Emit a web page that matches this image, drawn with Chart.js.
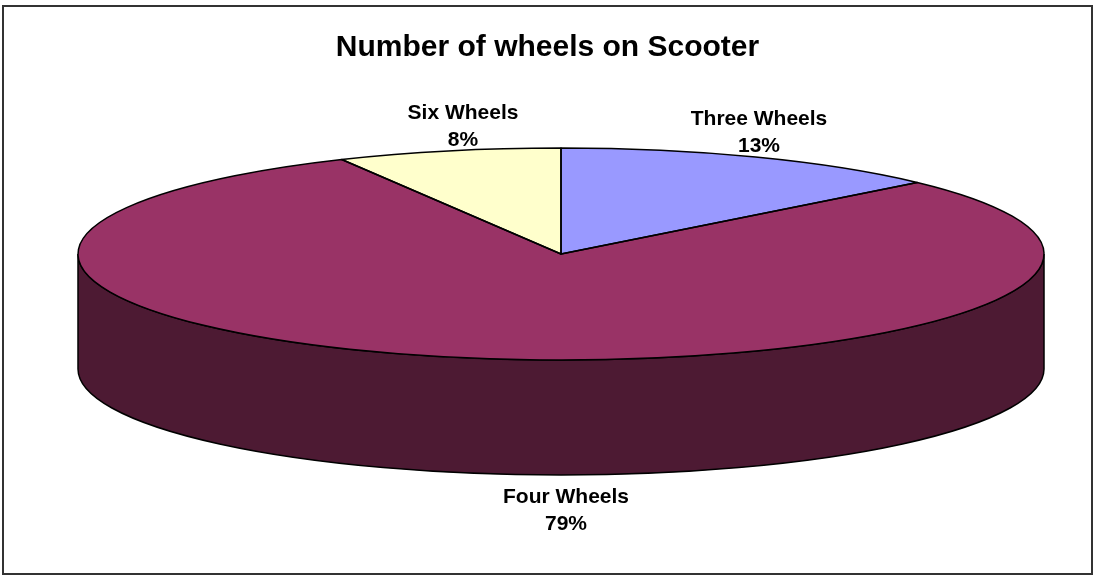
<!DOCTYPE html>
<html>
<head>
<meta charset="utf-8">
<title>Number of wheels on Scooter</title>
<script src="https://cdn.jsdelivr.net/npm/chart.js@4"></script>
<style>
  html, body { margin: 0; padding: 0; background: #fff; }
  #wrap { width: 1095px; height: 582px; }
</style>
</head>
<body>
<div id="wrap"><canvas id="graficaRuedas"></canvas></div>
<script>
const categories = ['Three Wheels', 'Four Wheels', 'Six Wheels'];
const shares = [13.2, 79.3, 7.5];
const percentLabels = ['13%', '79%', '8%'];
const topColors = ['#9999ff', '#993366', '#ffffcc'];
const wallColors = ['#4d4d80', '#4d1a33', '#808066'];

// the flat pie gets squashed onto this ellipse, with a wall below it
const tilt = { x: 561, y: 254, rx: 483, ry: 106, depth: 115 };
// centre of each label
const labelSpots = [[759, 119], [566, 497], [463, 113]];

function arcsOf(chart) {
  return chart.getDatasetMeta(0).data;
}

const tiltedPie = {
  id: 'tiltedPie',
  beforeDraw(chart) {
    const ctx = chart.ctx;
    ctx.save();
    ctx.strokeStyle = '#333333';
    ctx.lineWidth = 2;
    ctx.strokeRect(3, 6, 1089, 568);
    ctx.restore();
  },
  beforeDatasetsDraw(chart) {
    const ctx = chart.ctx;
    const arcs = arcsOf(chart);
    // wall: only the part of each slice facing the viewer
    ctx.save();
    ctx.strokeStyle = '#000';
    ctx.lineWidth = 1.5;
    arcs.forEach((arc, i) => {
      const a0 = Math.max(arc.startAngle, 0);
      const a1 = Math.min(arc.endAngle, Math.PI);
      if (a1 <= a0) return;
      ctx.beginPath();
      ctx.ellipse(tilt.x, tilt.y, tilt.rx, tilt.ry, 0, a0, a1);
      ctx.ellipse(tilt.x, tilt.y + tilt.depth, tilt.rx, tilt.ry, 0, a1, a0, true);
      ctx.closePath();
      ctx.fillStyle = wallColors[i];
      ctx.fill();
      ctx.stroke();
    });
    ctx.restore();

    const r = arcs[0].outerRadius;
    ctx.save();
    ctx.translate(tilt.x, tilt.y);
    ctx.scale(tilt.rx / r, tilt.ry / r);
    ctx.translate(-arcs[0].x, -arcs[0].y);
  },
  afterDatasetsDraw(chart) {
    const ctx = chart.ctx;
    ctx.restore();
    // outlines go on after the transform so the line width stays even
    ctx.save();
    ctx.strokeStyle = '#000';
    ctx.lineWidth = 1.5;
    ctx.lineJoin = 'round';
    arcsOf(chart).forEach((arc) => {
      ctx.beginPath();
      ctx.moveTo(tilt.x, tilt.y);
      ctx.ellipse(tilt.x, tilt.y, tilt.rx, tilt.ry, 0, arc.startAngle, arc.endAngle);
      ctx.closePath();
      ctx.stroke();
    });
    ctx.fillStyle = '#000';
    ctx.font = 'bold 21px "Liberation Sans"';
    ctx.textAlign = 'center';
    ctx.textBaseline = 'middle';
    categories.forEach((name, i) => {
      const [lx, ly] = labelSpots[i];
      ctx.fillText(name, lx, ly);
      ctx.fillText(percentLabels[i], lx, ly + 27);
    });
    ctx.restore();
  }
};

new Chart(document.getElementById('graficaRuedas').getContext('2d'), {
  type: 'pie',
  data: {
    labels: categories,
    datasets: [{
      data: shares,
      backgroundColor: topColors,
      borderWidth: 0,
      clip: false
    }]
  },
  options: {
    responsive: true,
    maintainAspectRatio: false,
    animation: false,
    plugins: {
      legend: { display: false },
      tooltip: { enabled: false },
      title: {
        display: true,
        text: 'Number of wheels on Scooter',
        color: '#000',
        font: { family: '"Liberation Sans"', size: 30, weight: 'bold' },
        padding: { top: 30, bottom: 10 }
      }
    }
  },
  plugins: [tiltedPie]
});
</script>
</body>
</html>
